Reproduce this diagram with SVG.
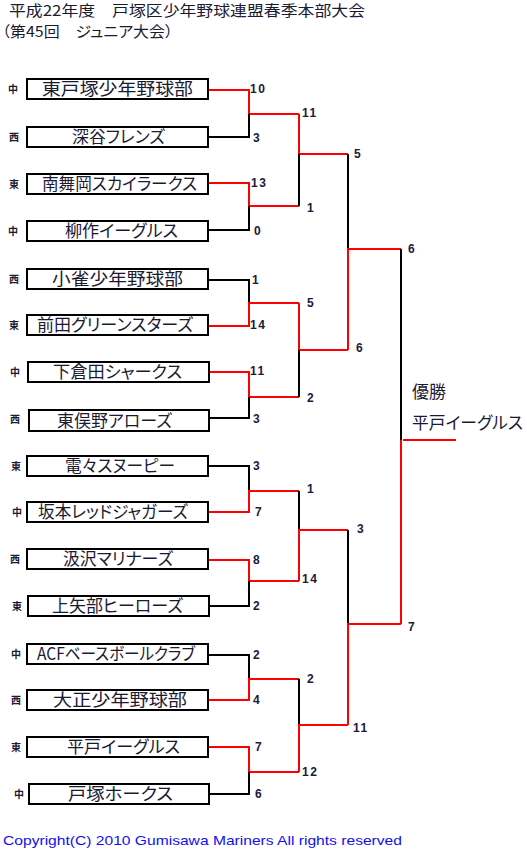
<svg xmlns="http://www.w3.org/2000/svg" width="527" height="849" viewBox="0 0 527 849">
<style>
.bg{fill:#fff}
.box{fill:#fff;stroke:#000;stroke-width:2}
.name{font-family:"Noto Sans CJK JP","Liberation Sans",sans-serif;font-size:17px;fill:#1a1a33;font-feature-settings:"palt";text-anchor:start}
.reg{font-family:"Noto Sans CJK JP",sans-serif;font-size:10px;font-weight:bold;fill:#1a1a33}
.sc{font-family:"Liberation Sans",Arial,sans-serif;font-size:12px;font-weight:bold;fill:#1a1a3a;letter-spacing:1.5px}
.title{font-family:"Noto Sans CJK JP",sans-serif;font-size:15px;fill:#1a1a33;font-feature-settings:"palt"}
.champ{font-family:"Noto Sans CJK JP",sans-serif;font-size:17px;fill:#1a1a33;font-feature-settings:"palt"}
.copy{font-family:"Liberation Sans",Arial,sans-serif;font-size:13px;fill:#1010ee}
.r{fill:none;stroke:#f00;stroke-width:2}
.k{fill:none;stroke:#000;stroke-width:2}
</style>
<rect class="bg" x="0" y="0" width="527" height="849"/>
<g id="title">
<text class="title" x="9" y="16" textLength="356" lengthAdjust="spacingAndGlyphs">平成22年度　戸塚区少年野球連盟春季本部大会</text>
<text class="title" x="2" y="37" textLength="171" lengthAdjust="spacingAndGlyphs">（第45回　ジュニア大会）</text>
</g>
<g id="connectors">
<!-- round 1 -->
<path class="r" d="M208,90 H249 V114 H299"/><path class="k" d="M208,137 H249 V114"/>
<path class="r" d="M208,183 H249 V206 H299"/><path class="k" d="M208,230 H249 V206"/>
<path class="k" d="M208,280 H249 V303"/><path class="r" d="M208,326 H249 V303 H299"/>
<path class="r" d="M208,372 H249 V397 H299"/><path class="k" d="M208,418 H249 V397"/>
<path class="k" d="M208,466 H249 V491"/><path class="r" d="M208,512 H249 V491 H299"/>
<path class="r" d="M208,560 H249 V581 H299"/><path class="k" d="M208,606 H249 V581"/>
<path class="k" d="M208,655 H249 V679"/><path class="r" d="M208,700 H249 V679 H299"/>
<path class="r" d="M208,747 H249 V772 H299"/><path class="k" d="M208,794 H249 V772"/>
<!-- round 2 -->
<path class="r" d="M299,114 V154 H348"/><path class="k" d="M299,206 V154"/>
<path class="r" d="M299,303 V350 H348"/><path class="k" d="M299,397 V350"/>
<path class="k" d="M299,491 V530"/><path class="r" d="M299,581 V530 H348"/>
<path class="k" d="M299,679 V725"/><path class="r" d="M299,772 V725 H348"/>
<!-- round 3 -->
<path class="k" d="M348,154 V249"/><path class="r" d="M348,350 V249 H401"/>
<path class="k" d="M348,530 V624"/><path class="r" d="M348,725 V624 H401"/>
<!-- final -->
<path class="k" d="M401,249 V440"/><path class="r" d="M401,624 V440"/>
<path class="r" d="M403,440 H456"/>
</g>
<g id="team1"><text class="reg" x="8" y="93">中</text><rect class="box" x="27" y="79" width="181" height="20"/><text class="name" x="42" y="95" textLength="151" lengthAdjust="spacingAndGlyphs">東戸塚少年野球部</text></g>
<g id="team2"><text class="reg" x="9" y="141">西</text><rect class="box" x="27" y="127" width="181" height="20"/><text class="name" x="72" y="143" textLength="93" lengthAdjust="spacingAndGlyphs">深谷フレンズ</text></g>
<g id="team3"><text class="reg" x="9" y="188">東</text><rect class="box" x="27" y="174" width="181" height="20"/><text class="name" x="42" y="190" textLength="155" lengthAdjust="spacingAndGlyphs">南舞岡スカイラークス</text></g>
<g id="team4"><text class="reg" x="8" y="235">中</text><rect class="box" x="27" y="221" width="181" height="20"/><text class="name" x="65" y="237" textLength="113" lengthAdjust="spacingAndGlyphs">柳作イーグルス</text></g>
<g id="team5"><text class="reg" x="9" y="283">西</text><rect class="box" x="27" y="269" width="181" height="20"/><text class="name" x="52" y="285" textLength="131" lengthAdjust="spacingAndGlyphs">小雀少年野球部</text></g>
<g id="team6"><text class="reg" x="9" y="329">東</text><rect class="box" x="27" y="315" width="181" height="20"/><text class="name" x="37" y="331" textLength="156" lengthAdjust="spacingAndGlyphs">前田グリーンスターズ</text></g>
<g id="team7"><text class="reg" x="10" y="376">中</text><rect class="box" x="28" y="362" width="181" height="20"/><text class="name" x="53" y="378" textLength="129" lengthAdjust="spacingAndGlyphs">下倉田シャークス</text></g>
<g id="team8"><text class="reg" x="10" y="423">西</text><rect class="box" x="29" y="410" width="180" height="21"/><text class="name" x="57" y="427" textLength="115" lengthAdjust="spacingAndGlyphs">東俣野アローズ</text></g>
<g id="team9"><text class="reg" x="11" y="470">東</text><rect class="box" x="27" y="456" width="181" height="20"/><text class="name" x="65" y="472" textLength="110" lengthAdjust="spacingAndGlyphs">電々スヌーピー</text></g>
<g id="team10"><text class="reg" x="12" y="516">中</text><rect class="box" x="27" y="502" width="181" height="20"/><text class="name" x="38" y="518" textLength="150" lengthAdjust="spacingAndGlyphs">坂本レッドジャガーズ</text></g>
<g id="team11"><text class="reg" x="10" y="563">西</text><rect class="box" x="27" y="549" width="181" height="20"/><text class="name" x="63" y="565" textLength="110" lengthAdjust="spacingAndGlyphs">汲沢マリナーズ</text></g>
<g id="team12"><text class="reg" x="12" y="610">東</text><rect class="box" x="28" y="596" width="181" height="20"/><text class="name" x="52" y="612" textLength="131" lengthAdjust="spacingAndGlyphs">上矢部ヒーローズ</text></g>
<g id="team13"><text class="reg" x="11" y="658">中</text><rect class="box" x="27" y="644" width="181" height="20"/><text class="name" x="37" y="660" textLength="158" lengthAdjust="spacingAndGlyphs">ACFベースボールクラブ</text></g>
<g id="team14"><text class="reg" x="11" y="704">西</text><rect class="box" x="27" y="690" width="181" height="20"/><text class="name" x="53" y="706" textLength="134" lengthAdjust="spacingAndGlyphs">大正少年野球部</text></g>
<g id="team15"><text class="reg" x="11" y="751">東</text><rect class="box" x="27" y="737" width="181" height="20"/><text class="name" x="67" y="753" textLength="113" lengthAdjust="spacingAndGlyphs">平戸イーグルス</text></g>
<g id="team16"><text class="reg" x="14" y="798">中</text><rect class="box" x="29" y="784" width="180" height="20"/><text class="name" x="68" y="800" textLength="105" lengthAdjust="spacingAndGlyphs">戸塚ホークス</text></g>
<g id="scores">
<text class="sc" x="250" y="93">10</text>
<text class="sc" x="253" y="142">3</text>
<text class="sc" x="251" y="187">13</text>
<text class="sc" x="254" y="235">0</text>
<text class="sc" x="252" y="284">1</text>
<text class="sc" x="250" y="329">14</text>
<text class="sc" x="250" y="375">11</text>
<text class="sc" x="253" y="423">3</text>
<text class="sc" x="253" y="470">3</text>
<text class="sc" x="255" y="516">7</text>
<text class="sc" x="253" y="564">8</text>
<text class="sc" x="253" y="610">2</text>
<text class="sc" x="253" y="659">2</text>
<text class="sc" x="253" y="704">4</text>
<text class="sc" x="255" y="751">7</text>
<text class="sc" x="255" y="798">6</text>
<text class="sc" x="302" y="117">11</text>
<text class="sc" x="307" y="212">1</text>
<text class="sc" x="307" y="307">5</text>
<text class="sc" x="307" y="402">2</text>
<text class="sc" x="307" y="493">1</text>
<text class="sc" x="302" y="583">14</text>
<text class="sc" x="307" y="683">2</text>
<text class="sc" x="302" y="776">12</text>
<text class="sc" x="354" y="158">5</text>
<text class="sc" x="356" y="352">6</text>
<text class="sc" x="357" y="533">3</text>
<text class="sc" x="353" y="732">11</text>
<text class="sc" x="408" y="253">6</text>
<text class="sc" x="408" y="631">7</text>
</g>
<g id="champion">
<text class="champ" x="412" y="398">優勝</text>
<text class="champ" x="412" y="429" textLength="111" lengthAdjust="spacingAndGlyphs">平戸イーグルス</text>
</g>
<text class="copy" x="3" y="845" textLength="399" lengthAdjust="spacingAndGlyphs">Copyright(C) 2010 Gumisawa Mariners All rights reserved</text>
</svg>
